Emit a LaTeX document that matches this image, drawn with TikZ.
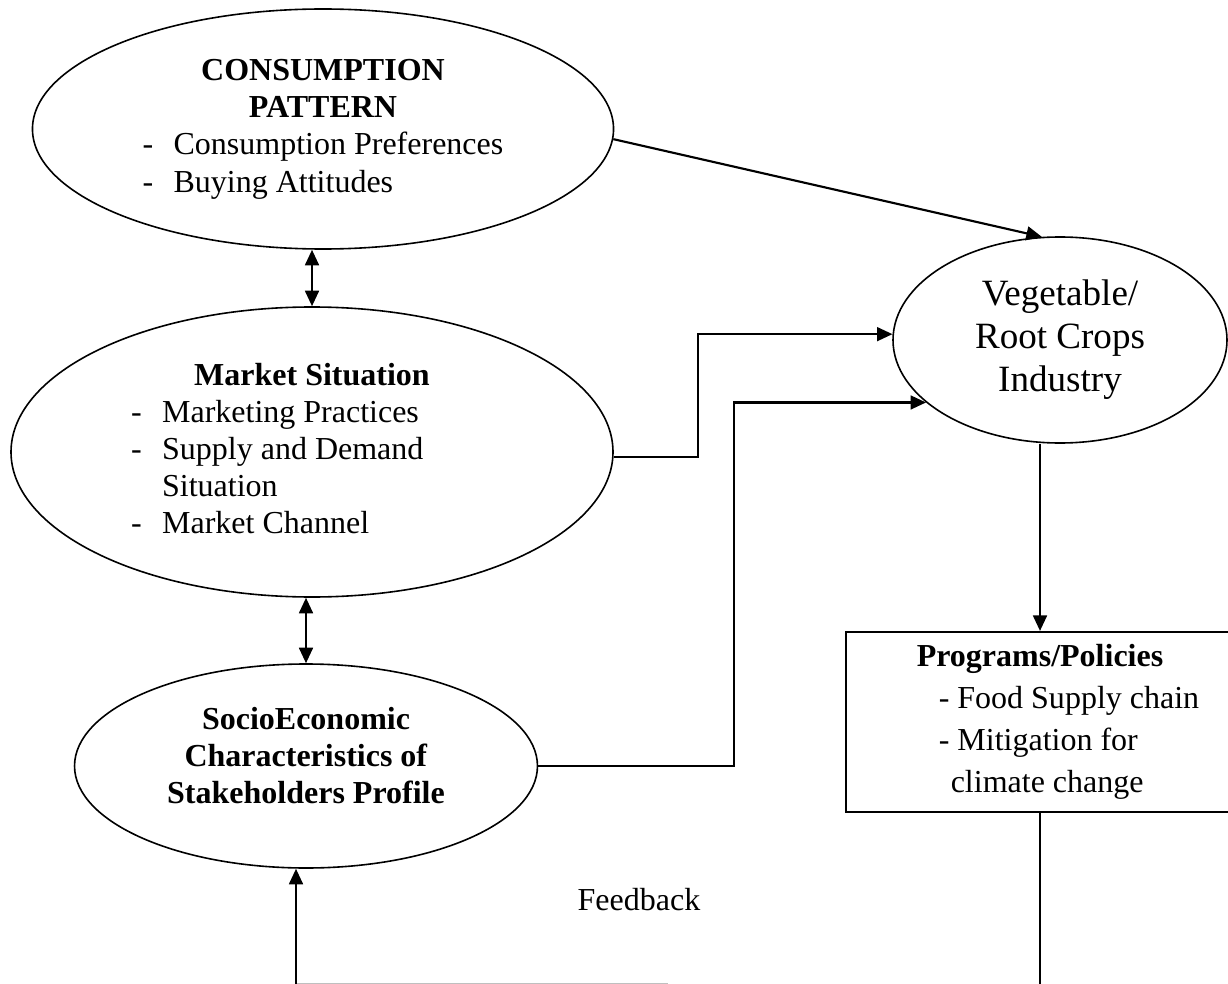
\documentclass[tikz,border=0pt]{standalone}
\usepackage{fontspec}
\setmainfont{Liberation Serif}
\usetikzlibrary{shapes.geometric,arrows.meta,positioning,calc}

\begin{document}
\begin{tikzpicture}[
  x=0.375pt, y=-0.375pt,
  oval/.style={draw, ellipse, line width=0.6pt, inner sep=0pt, font={\fontsize{12}{13.9}\selectfont}},
  policybox/.style={draw, rectangle, line width=0.8pt, inner sep=0pt, align=left, font={\fontsize{12}{15.75}\selectfont}},
  flow/.style={-{Triangle[length=5.8pt,width=5.2pt]}, line width=0.8pt},
  twoway/.style={{Triangle[length=5.8pt,width=5.2pt]}-{Triangle[length=5.8pt,width=5.2pt]}, line width=0.8pt},
  loopline/.style={line width=0.8pt}
]
\clip (0,0) rectangle (1228,984);
% ovals on the left
\node[oval, minimum width=217.9pt, minimum height=90pt] (cons) at (323,129) {%
  \begin{tabular}{@{}p{11.6pt}@{}l@{}}
  \multicolumn{2}{c}{\textbf{CONSUMPTION}}\\
  \multicolumn{2}{c}{\textbf{PATTERN}}\\
  - & Consumption Preferences\\
  - & Buying Attitudes
  \end{tabular}};
\node[oval, minimum width=225.75pt, minimum height=108.75pt] (market) at (312,452) {%
  \begin{tabular}{@{}p{11.6pt}@{}p{124pt}@{}}
  \multicolumn{2}{c}{\textbf{Market Situation}}\\
  - & Marketing Practices\\
  - & Supply and Demand\\
    & Situation\\
  - & Market Channel
  \end{tabular}};
\node[oval, minimum width=173.6pt, minimum height=76.5pt, align=center] (socio) at (306,766)
  {\textbf{SocioEconomic}\\ \textbf{Characteristics of}\\ \textbf{Stakeholders Profile}\\[-6pt]};
% right column
\node[oval, minimum width=125.25pt, minimum height=77.25pt, align=center,
  font={\fontsize{13.9}{16.1}\selectfont}] (veg) at (1060,340)
  {Vegetable/\\ Root Crops\\ Industry};
\node[policybox, minimum width=145.5pt, minimum height=67.5pt] (policy) at (1040,722)
  {\hspace*{13.5pt}\textbf{Programs/Policies}\\
   \hspace*{21.75pt}- Food Supply chain\\
   \hspace*{21.75pt}- Mitigation for\\
   \hspace*{26.25pt}climate change};
\node[font={\fontsize{12}{13.9}\selectfont}] (fbtext) at (639,900) {Feedback};
\coordinate (fbL) at (296,983.5);
\coordinate (fbM) at (668,983.5);
\coordinate (fbR) at (1040,984);
% connectors
\draw[flow] (cons.-2) -- (veg.100);
\draw[flow] (market.-1) -- ++(84,0) |- (veg.178);
\draw[flow] (socio.east) -- ++(196,0) |- (veg.205);
\draw[twoway] (market.north |- cons.south) -- (market.north);
\draw[twoway] (market.south -| socio.north) -- (socio.north);
\draw[flow] (veg.south -| policy.north) -- (policy.north);
\draw[loopline] (policy.south) -- (fbR);
\draw[gray!50, line width=0.4pt] (fbL) -- (fbM);
\draw[flow] (fbL) -- (fbL |- socio.south);
\end{tikzpicture}
\end{document}
